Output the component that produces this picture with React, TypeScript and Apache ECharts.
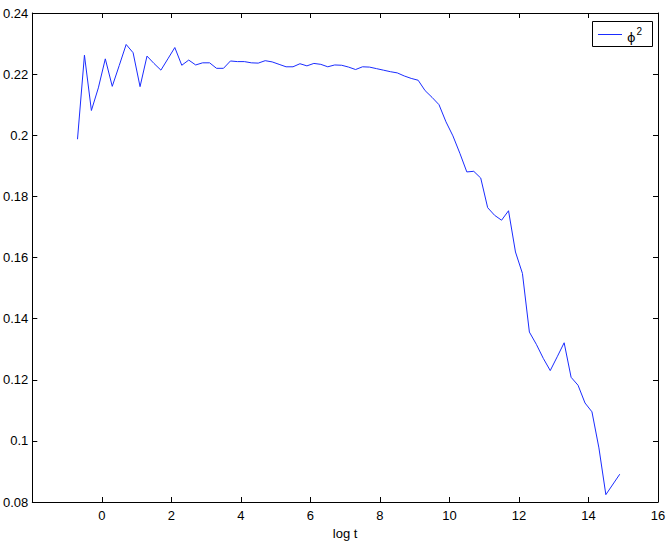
import React, { useEffect, useRef } from "react";
import * as echarts from "echarts";

const logT: number[] = [
  -0.7, -0.5, -0.3, -0.1, 0.1, 0.3, 0.5, 0.7, 0.9, 1.1,
  1.3, 1.5, 1.7, 1.9, 2.1, 2.3, 2.5, 2.7, 2.9, 3.1,
  3.3, 3.5, 3.7, 3.9, 4.1, 4.3, 4.5, 4.7, 4.9, 5.1,
  5.3, 5.5, 5.7, 5.9, 6.1, 6.3, 6.5, 6.7, 6.9, 7.1,
  7.3, 7.5, 7.7, 7.9, 8.1, 8.3, 8.5, 8.7, 8.9, 9.1,
  9.3, 9.5, 9.7, 9.9, 10.1, 10.3, 10.5, 10.7, 10.9, 11.1,
  11.3, 11.5, 11.7, 11.9, 12.1, 12.3, 12.5, 12.7, 12.9, 13.1,
  13.3, 13.5, 13.7, 13.9, 14.1, 14.3, 14.5, 14.9,
];

const phi2: number[] = [
  0.1987, 0.2262, 0.2081, 0.2155, 0.225, 0.216, 0.2228, 0.2297, 0.227, 0.2159,
  0.2259, 0.2235, 0.2213, 0.225, 0.2287, 0.2229, 0.2246, 0.223, 0.2237, 0.2237,
  0.2219, 0.2219, 0.2243, 0.2241, 0.2241, 0.2237, 0.2236, 0.2244, 0.224, 0.2232,
  0.2224, 0.2224, 0.2234, 0.2227, 0.2235, 0.2232, 0.2224, 0.223, 0.2229, 0.2223,
  0.2215, 0.2224, 0.2223, 0.2218, 0.2213, 0.2208, 0.2204, 0.2194, 0.2186, 0.218,
  0.2146, 0.2124, 0.21, 0.2044, 0.1998, 0.1941, 0.188, 0.1882, 0.186, 0.1763,
  0.1738, 0.1722, 0.1753, 0.1618, 0.1548, 0.1356, 0.1316, 0.127, 0.123, 0.1275,
  0.1321, 0.1208, 0.1182, 0.1124, 0.1095, 0.0977, 0.0824, 0.0891,
];

const X_MIN = -2;
const X_MAX = 16;
const X_STEP = 2;
const Y_MIN = 0.08;
const Y_MAX = 0.24;
const Y_STEP = 0.02;

const FONT = "'Liberation Sans', Arial, Helvetica, sans-serif";

export default function App() {
  const ref = useRef<HTMLDivElement>(null);

  useEffect(() => {
    if (!ref.current) return;
    const chart = echarts.init(ref.current, null, { renderer: "svg" });
    const data = logT.map((x, i) => [x, phi2[i]]);
    const fmtY = (v: number) => String(parseFloat(v.toFixed(2)));
    const fmtX = (v: number) => (Math.abs(v - X_MIN) < 1e-9 ? "" : String(Math.round(v)));
    const axisLine = { show: true, onZero: false, lineStyle: { color: "#000", width: 1 } };
    const tick = { show: true, inside: true, length: 5, lineStyle: { color: "#000", width: 1 } };
    const label = { color: "#000", fontSize: 13, fontFamily: FONT };

    chart.setOption({
      animation: false,
      backgroundColor: "#fff",
      grid: { left: 32, right: 13, top: 13, bottom: 37, containLabel: false },
      xAxis: [
        {
          type: "value",
          min: X_MIN,
          max: X_MAX,
          interval: X_STEP,
          position: "bottom",
          axisLine,
          axisTick: tick,
          axisLabel: { ...label, margin: 7, formatter: fmtX },
          splitLine: { show: false },
          name: "log t",
          nameLocation: "middle",
          nameGap: 25,
          nameTextStyle: { color: "#000", fontSize: 13, fontFamily: FONT },
        },
        {
          type: "value",
          min: X_MIN,
          max: X_MAX,
          interval: X_STEP,
          position: "top",
          axisLine,
          axisTick: tick,
          axisLabel: { show: false },
          splitLine: { show: false },
        },
      ],
      yAxis: [
        {
          type: "value",
          min: Y_MIN,
          max: Y_MAX,
          interval: Y_STEP,
          position: "left",
          axisLine,
          axisTick: tick,
          axisLabel: { ...label, margin: 4, formatter: fmtY },
          splitLine: { show: false },
        },
        {
          type: "value",
          min: Y_MIN,
          max: Y_MAX,
          interval: Y_STEP,
          position: "right",
          axisLine,
          axisTick: tick,
          axisLabel: { show: false },
          splitLine: { show: false },
        },
      ],
      series: [
        {
          type: "line",
          name: "ϕ²",
          data,
          showSymbol: false,
          symbol: "none",
          lineStyle: { color: "#1a2cff", width: 1 },
          itemStyle: { color: "#1a2cff" },
        },
      ],
      graphic: [
        {
          type: "rect",
          shape: { x: 592.5, y: 21.5, width: 60, height: 25 },
          style: { fill: "#fff", stroke: "#000", lineWidth: 1 },
          z: 100,
        },
        {
          type: "line",
          shape: { x1: 598, y1: 34.5, x2: 622, y2: 34.5 },
          style: { stroke: "#1a2cff", lineWidth: 1 },
          z: 101,
        },
        {
          type: "text",
          x: 627,
          y: 35,
          style: {
            text: "{b|ϕ}{s|2}",
            verticalAlign: "middle",
            rich: {
              b: { fontSize: 13, fontFamily: "'DejaVu Sans', sans-serif", fill: "#000", padding: [4, 0, 0, 0] },
              s: { fontSize: 10, fontFamily: FONT, fill: "#000", verticalAlign: "top", padding: [0, 0, 6, 1] },
            },
          },
          z: 101,
        },
      ],
    });

    return () => chart.dispose();
  }, []);

  return (
    <div
      ref={ref}
      style={{ position: "fixed", left: 0, top: 0, width: 671, height: 545 }}
    />
  );
}
